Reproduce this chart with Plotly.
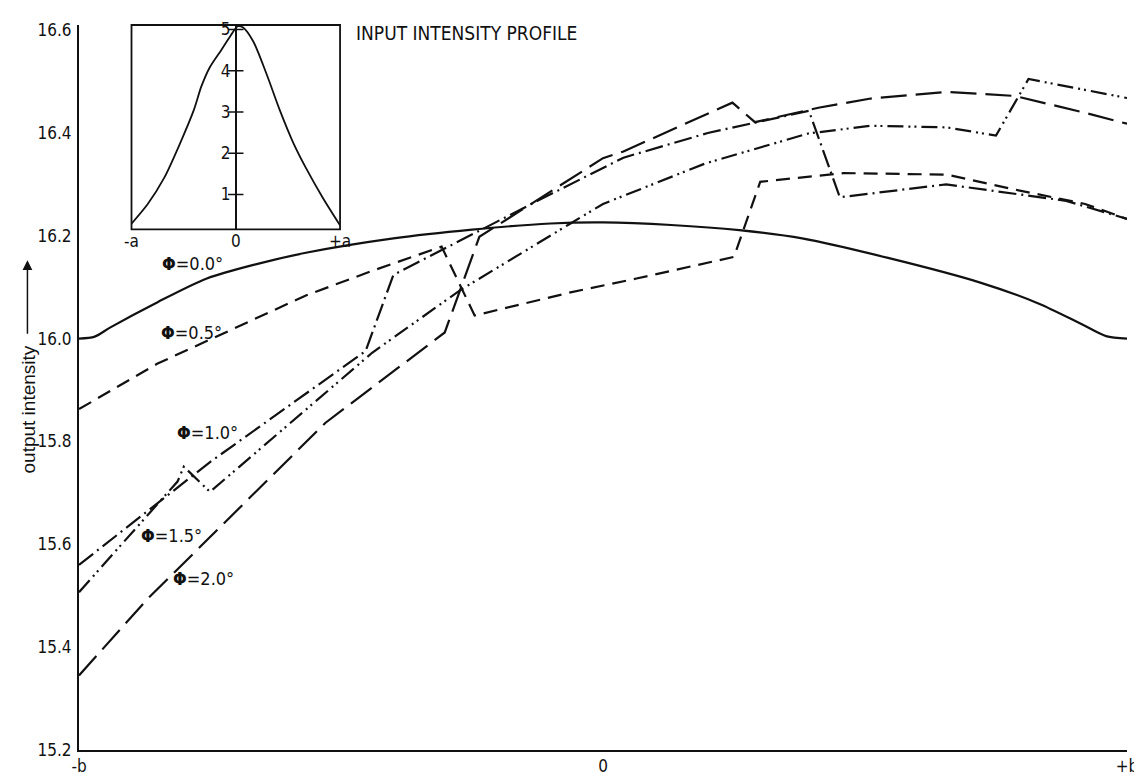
import plotly.graph_objects as go

# ---------------- data ----------------
x_phi00 = [-1, -0.97, -0.94, -0.85, -0.756, -0.661, -0.567, -0.4, -0.25, -0.1, 0.0, 0.13, 0.26, 0.38, 0.544, 0.72, 0.832, 0.91, 0.96, 1.0]
y_phi00 = [16.0, 16.004, 16.022, 16.071, 16.117, 16.145, 16.167, 16.195, 16.212, 16.224, 16.226, 16.221, 16.211, 16.195, 16.157, 16.109, 16.068, 16.03, 16.005, 16.0]

x_phi05 = [-1, -0.851, -0.567, -0.44, -0.308, -0.245, -0.062, 0.064, 0.25, 0.30, 0.459, 0.656, 0.786, 0.92, 1.0]
y_phi05 = [15.863, 15.951, 16.084, 16.132, 16.179, 16.045, 16.09, 16.117, 16.159, 16.305, 16.322, 16.319, 16.29, 16.262, 16.233]

x_phi10 = [-1, -0.75, -0.453, -0.40, -0.125, 0.0, 0.039, 0.2, 0.393, 0.452, 0.655, 0.884, 1.0]
y_phi10 = [15.56, 15.76, 15.976, 16.124, 16.268, 16.332, 16.352, 16.40, 16.443, 16.275, 16.30, 16.268, 16.233]

x_phi15 = [-1, -0.812, -0.80, -0.75, -0.44, -0.273, -0.062, 0.0, 0.196, 0.304, 0.392, 0.511, 0.655, 0.75, 0.812, 1.0]
y_phi15 = [15.507, 15.722, 15.751, 15.702, 15.973, 16.094, 16.224, 16.262, 16.341, 16.373, 16.399, 16.414, 16.411, 16.395, 16.505, 16.468]

x_phi20 = [-1, -0.87, -0.53, -0.377, -0.302, -0.236, 0.0, 0.039, 0.247, 0.29, 0.411, 0.511, 0.656, 0.786, 0.917, 1.0]
y_phi20 = [15.345, 15.493, 15.836, 15.955, 16.012, 16.198, 16.351, 16.364, 16.459, 16.421, 16.449, 16.467, 16.48, 16.472, 16.44, 16.418]

x_profile = [-1, -0.846, -0.687, -0.529, -0.402, -0.33, -0.25, -0.14, -0.05, 0.02, 0.07, 0.168, 0.295, 0.421, 0.548, 0.675, 0.834, 1.0]
v_profile = [0.29, 0.76, 1.40, 2.27, 3.05, 3.62, 4.08, 4.5, 4.85, 5.08, 5.05, 4.71, 3.92, 3.05, 2.27, 1.63, 0.92, 0.25]

y_ticks = [15.2, 15.4, 15.6, 15.8, 16.0, 16.2, 16.4, 16.6]
y_ticktext = ["15.2", "15.4", "15.6", "15.8", "16.0", "16.2", "16.4", "16.6"]
x_ticks = [-1, 0, 1]
x_ticktext = ["-b", "0", "+b"]
inset_xticktext = ["-a", "0", "+a"]
inset_yticks = [1, 2, 3, 4, 5]

phi_labels = ["0.0", "0.5", "1.0", "1.5", "2.0"]

# ---------------- styles ----------------
NARROW = "Liberation Sans Narrow, DejaVu Sans Condensed, Arial Narrow, sans-serif"
SANS = "Liberation Sans, Arial, sans-serif"
BLACK = "#111111"

series = [
    (x_phi00, y_phi00, "solid", "spline"),
    (x_phi05, y_phi05, "14px,8px", "linear"),
    (x_phi10, y_phi10, "18px,5px,2px,5px", "linear"),
    (x_phi15, y_phi15, "16px,5px,2px,4px,2px,5px", "linear"),
    (x_phi20, y_phi20, "26px,9px", "linear"),
]

fig = go.Figure()
for (xs, ys, dash, shape), lab in zip(series, phi_labels):
    fig.add_trace(go.Scatter(
        x=xs, y=ys, mode="lines", name="Φ=" + lab + "°",
        line=dict(color=BLACK, width=2.2, dash=dash, shape=shape, smoothing=0.8),
        showlegend=False, hoverinfo="skip"))

# inset profile
fig.add_trace(go.Scatter(
    x=x_profile, y=v_profile, mode="lines", xaxis="x2", yaxis="y2",
    line=dict(color=BLACK, width=1.8, shape="spline", smoothing=0.8),
    showlegend=False, hoverinfo="skip"))
# inset tick crosses on the centre line
fig.add_trace(go.Scatter(
    x=[0] * len(inset_yticks), y=inset_yticks, mode="markers", xaxis="x2", yaxis="y2",
    marker=dict(symbol="line-ew", size=11, line=dict(color=BLACK, width=1.5)),
    showlegend=False, hoverinfo="skip"))

fig.update_layout(
    width=1142, height=780,
    margin=dict(l=71, r=14, t=14, b=26),
    paper_bgcolor="white", plot_bgcolor="white",
    font=dict(family=NARROW, size=17, color=BLACK),
    xaxis=dict(range=[-1, 1], tickvals=x_ticks, ticktext=x_ticktext,
               showline=True, linecolor=BLACK, linewidth=2, showgrid=False,
               zeroline=False, ticks="", tickfont=dict(size=17, family=NARROW)),
    yaxis=dict(range=[15.2, 16.61], tickvals=y_ticks, ticktext=y_ticktext,
               showline=True, linecolor=BLACK, linewidth=2, showgrid=False,
               zeroline=False, ticks="", ticklabelstandoff=2,
               tickfont=dict(size=17, family=NARROW)),
    xaxis2=dict(domain=[0.0501, 0.2491], anchor="y2", range=[-1, 1],
                tickvals=x_ticks, ticktext=inset_xticktext, showline=False,
                showgrid=False, zeroline=False, ticks="", ticklabelstandoff=0,
                tickfont=dict(size=17, family=NARROW)),
    yaxis2=dict(domain=[0.718, 1.0], anchor="free", position=0.1495,
                range=[0.15, 5.11], tickvals=inset_yticks,
                ticktext=[str(v) for v in inset_yticks],
                showline=True, linecolor=BLACK, linewidth=1.5, showgrid=False,
                zeroline=False, ticks="", ticklabelstandoff=1,
                tickfont=dict(size=17, family=NARROW)),
    shapes=[dict(type="rect", xref="x2 domain", yref="y2 domain",
                 x0=0, x1=1, y0=0, y1=1, line=dict(color=BLACK, width=1.8))],
)

annotations = []
label_pos = [(-0.784, 16.147), (-0.786, 16.012), (-0.754, 15.817), (-0.824, 15.617), (-0.763, 15.533)]
for lab, (lx, ly) in zip(phi_labels, label_pos):
    annotations.append(dict(x=lx, y=ly, xref="x", yref="y", showarrow=False,
                            text="<b>Φ</b>=" + lab + "°",
                            font=dict(family=NARROW, size=18, color=BLACK)))
annotations.append(dict(x=(348 - 71) / 1057, y=(754 - 22) / 740, xref="paper", yref="paper",
                        xanchor="left", yanchor="middle", showarrow=False,
                        text="INPUT INTENSITY PROFILE",
                        font=dict(family=NARROW, size=19, color=BLACK)))
annotations.append(dict(x=(20 - 71) / 1057, y=(754 - 406) / 740, xref="paper", yref="paper",
                        xanchor="center", yanchor="middle", showarrow=False,
                        text="output intensity", textangle=-90,
                        font=dict(family=SANS, size=19, color=BLACK)))
annotations.append(dict(x=(19 - 71) / 1057, y=(754 - 254) / 740, xref="paper", yref="paper",
                        ax=0, ay=75, text="", showarrow=True, arrowhead=2,
                        arrowsize=1.3, arrowwidth=1.5, arrowcolor=BLACK))
fig.update_layout(annotations=annotations)

fig.write_html("out.html")
